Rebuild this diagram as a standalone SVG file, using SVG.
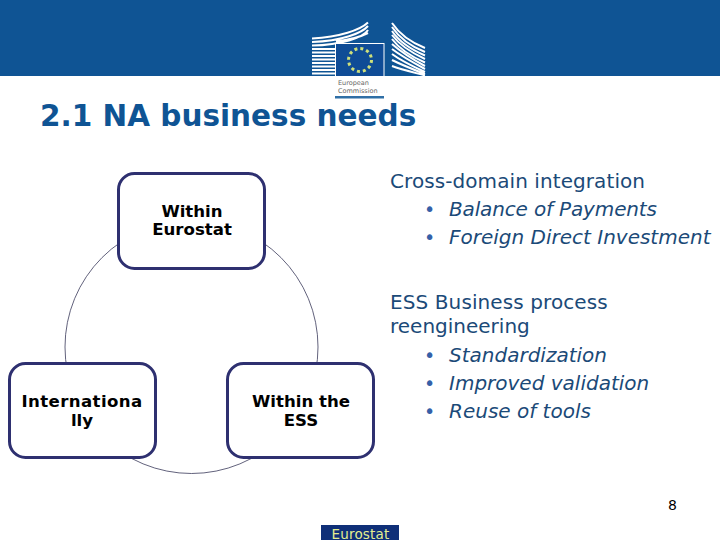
<svg xmlns="http://www.w3.org/2000/svg" width="720" height="540" viewBox="0 0 720 540">
<style>
.t{font-family:"DejaVu Sans",Verdana,sans-serif;fill:#1b4a78}
.b{font-size:16.600px;font-weight:bold;text-anchor:middle;fill:#000}
.body{font-size:20px}
.i{font-style:italic}
.dot{font-size:19px;fill:#3560a8}
.box{fill:#fff;stroke:#2e3070;stroke-width:3}
.arc{fill:none;stroke:#3a3a5a;stroke-width:.8}
.st{stroke:#fff;stroke-width:2;fill:none}
</style>
<rect width="720" height="540" fill="#fff"/>
<rect id="header" width="720" height="76" fill="#0f5494"/>
<g id="logo">
<path class="st" d="M312 38.500C340 37 360 30 368 22.500M312 42C342 41 362 33 368 26M312 45.500C342 45 364 37 368 30M312 49H335M312 52.500H335M312 56H335M312 59.500H335M312 63H335M312 66.500H335M312 70H335M312 73.500H335M336 41.500C350 40 362 36 368 33"/>
<path class="st" d="M392 23C398 32 410 42 425 48M392 27C398 36 410 46 425 52M392 31C398 40 410 49 425 55.500M392 35C398 43 410 52 425 59M392 39C398 47 410 56 425 62.500M392 44C400 51 412 59 425 66M392 49C400 55 412 62 425 69M392 54C400 60 412 66 425 72M392 60C400 64 412 69 425 74M392 66C400 69 412 72 425 75.500"/>
<rect x="335.500" y="43.500" width="48.500" height="33" fill="#0f4c96" stroke="#fff"/>
<circle cx="360" cy="60" r="11.500" fill="none" stroke="#cfe07a" stroke-width="3" stroke-dasharray="3 3.020"/>
<text class="t" x="338" y="85" font-size="6.500" style="fill:#666">European</text>
<text class="t" x="338" y="93" font-size="6.500" style="fill:#666">Commission</text>
<rect x="335" y="96" width="49" height="2.500" fill="#2f6fa6"/>
</g>
<text id="title" class="t" x="40" y="126" font-size="29.500" font-weight="bold" style="fill:#0f5494">2.1 NA business needs</text>
<g id="connectors">
<circle class="arc" cx="191.500" cy="347" r="126.500"/>
</g>
<g id="within-eurostat">
<rect class="box" x="118.500" y="173.500" width="146" height="95" rx="16"/>
<text class="t b" x="192" y="217">Within</text>
<text class="t b" x="192" y="235">Eurostat</text>
</g>
<g id="internationally">
<rect class="box" x="9.500" y="363.500" width="146" height="94" rx="16"/>
<text class="t b" x="82" y="406.500" letter-spacing=".4">Internationa</text>
<text class="t b" x="82" y="425.500">lly</text>
</g>
<g id="within-ess">
<rect class="box" x="227.500" y="363.500" width="146" height="94" rx="16"/>
<text class="t b" x="301" y="406.500">Within the</text>
<text class="t b" x="301" y="425.500">ESS</text>
</g>
<g id="text-1">
<text class="t body" x="390" y="188" letter-spacing=".08">Cross-domain integration</text>
<text class="t dot" x="424" y="216">•</text>
<text class="t body i" x="449" y="216" letter-spacing="-.15">Balance of Payments</text>
<text class="t dot" x="424" y="244">•</text>
<text class="t body i" x="449" y="244">Foreign Direct Investment</text>
</g>
<g id="text-2">
<text class="t body" x="390" y="309" letter-spacing=".1">ESS Business process</text>
<text class="t body" x="390" y="333">reengineering</text>
<text class="t dot" x="424" y="362">•</text>
<text class="t body i" x="449" y="362">Standardization</text>
<text class="t dot" x="424" y="390">•</text>
<text class="t body i" x="449" y="390">Improved validation</text>
<text class="t dot" x="424" y="418">•</text>
<text class="t body i" x="449" y="418">Reuse of tools</text>
</g>
<text id="page" class="t" x="668" y="510" font-size="14" style="fill:#000">8</text>
<g id="footer">
<rect x="321" y="525" width="78" height="15" fill="#0f2f78"/>
<text class="t" x="360.500" y="538.500" font-size="13.500" text-anchor="middle" letter-spacing=".2" style="fill:#e4ee90">Eurostat</text>
</g>
</svg>
